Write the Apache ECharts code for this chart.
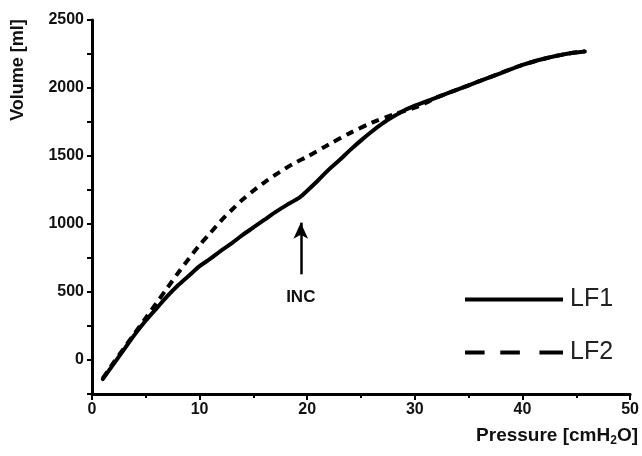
<!DOCTYPE html>
<html>
<head>
<meta charset="utf-8">
<script src="https://cdn.jsdelivr.net/npm/echarts@6/dist/echarts.min.js"></script>
<style>
  html, body { margin: 0; padding: 0; background: #fff; }
  #chart { width: 642px; height: 456px; }
</style>
</head>
<body>
<div id="chart"></div>
<script>
// Pressure [cmH2O] values and volume [ml] values
const lf1Pressure = [1.0, 2, 3, 4, 5, 6, 7, 8, 9, 10, 11, 12, 13, 14, 15, 16, 17, 18, 19.3, 20, 21, 22, 23, 24, 25, 26, 27, 28, 29, 30, 31, 32, 34, 36, 38, 40, 42, 44, 45.8];
const lf1Volume   = [-140, -30, 80, 190, 290, 380, 470, 550, 620, 690, 745, 805, 860, 920, 975, 1030, 1085, 1135, 1195, 1245, 1320, 1400, 1470, 1545, 1615, 1680, 1740, 1790, 1835, 1870, 1900, 1930, 1990, 2050, 2110, 2170, 2215, 2250, 2268];

const lf2Pressure = [1.0, 2, 3, 4, 5, 6, 7, 8, 9, 10, 11, 12, 13, 14, 15, 16, 17, 18, 19, 20, 22, 24, 26, 28, 30, 31, 32, 34, 36, 38, 40, 42, 44, 45.8];
const lf2Volume   = [-135, -20, 90, 200, 310, 420, 530, 640, 745, 845, 935, 1025, 1105, 1180, 1245, 1305, 1360, 1410, 1455, 1495, 1585, 1670, 1745, 1805, 1855, 1890, 1930, 1990, 2050, 2110, 2170, 2215, 2250, 2270];

const seriesNames = ['LF1', 'LF2'];
const xTicks = { min: 0, max: 50, interval: 10 };
const yTicks = { min: -250, max: 2500, interval: 250, labelStep: 500 };
const incArrow = { pressure: 19.4, from: 630, to: 1010, label: 'INC' };

const FONT = '"Liberation Sans", Arial, sans-serif';

function pairs(xs, ys) { return xs.map((x, i) => [x, ys[i]]); }

// legend glyphs: solid bar and three dashes
const solidIcon = 'path://M0,0h100v4h-100z';
const dashIcon = 'path://M0,0h20v4h-20zM36,0h20v4h-20zM76,0h24v4h-24z';

const chart = echarts.init(document.getElementById('chart'), null, { renderer: 'canvas' });

chart.setOption({
  animation: false,
  backgroundColor: '#fff',
  grid: { left: 92, right: 10, top: 20, bottom: 62, containLabel: false },
  xAxis: {
    type: 'value',
    min: xTicks.min, max: xTicks.max, interval: xTicks.interval,
    axisLine: { onZero: false, lineStyle: { color: '#000', width: 3 } },
    axisTick: { show: true, length: 6, lineStyle: { color: '#000', width: 2 } },
    minorTick: { show: true, splitNumber: 2, length: 4, lineStyle: { color: '#000', width: 2 } },
    axisLabel: { color: '#111', fontSize: 16, fontWeight: 'bold', fontFamily: FONT, margin: 8, showMaxLabel: true },
    splitLine: { show: false }
  },
  yAxis: {
    type: 'value',
    min: yTicks.min, max: yTicks.max, interval: yTicks.interval,
    axisLine: { show: true, onZero: false, lineStyle: { color: '#000', width: 3 } },
    axisTick: { show: true, length: 5, lineStyle: { color: '#000', width: 2 } },
    axisLabel: {
      color: '#111', fontSize: 16, fontWeight: 'bold', fontFamily: FONT, margin: 8,
      formatter: v => (v % yTicks.labelStep === 0 ? String(v) : '')
    },
    splitLine: { show: false }
  },
  legend: {
    show: true,
    orient: 'vertical',
    left: 460,
    top: 282,
    itemWidth: 98,
    itemHeight: 4,
    itemGap: 28,
    selectedMode: false,
    textStyle: { color: '#222', fontSize: 25, fontFamily: FONT, padding: [0, 0, 0, 2] },
    itemStyle: { color: '#000' },
    data: [
      { name: seriesNames[0], icon: solidIcon, itemStyle: { color: '#000' } },
      { name: seriesNames[1], icon: dashIcon, itemStyle: { color: '#000' } }
    ]
  },
  graphic: [
    {
      type: 'text',
      x: 18, y: 70,
      rotation: Math.PI / 2,
      style: {
        text: 'Volume [ml]',
        fill: '#111',
        font: 'bold 18px ' + FONT,
        align: 'center',
        verticalAlign: 'middle'
      }
    },
    {
      type: 'text',
      x: 638, y: 436,
      style: {
        text: '{a|Pressure [cmH}{s|2}{a|O]}',
        fill: '#111',
        align: 'right',
        verticalAlign: 'middle',
        rich: {
          a: { fontSize: 19, fontWeight: 'bold', fontFamily: FONT, fill: '#111' },
          s: { fontSize: 12, fontWeight: 'bold', fontFamily: FONT, fill: '#111', padding: [10, 0, 0, 0] }
        }
      }
    }
  ],
  series: [
    {
      name: seriesNames[0],
      type: 'line',
      data: pairs(lf1Pressure, lf1Volume),
      showSymbol: false,
      symbol: 'none',
      smooth: 0.3,
      lineStyle: { color: '#000', width: 4, type: 'solid', cap: 'round', join: 'round' },
      itemStyle: { color: '#000' },
      z: 3,
      markLine: {
        silent: true,
        animation: false,
        symbol: ['none', 'arrow'],
        symbolSize: [11, 16],
        lineStyle: { color: '#000', width: 2.5, type: 'solid' },
        label: {
          show: true,
          position: 'start',
          formatter: incArrow.label,
          color: '#111',
          fontSize: 17,
          fontWeight: 'bold',
          fontFamily: FONT,
          distance: 14
        },
        data: [[
          { coord: [incArrow.pressure, incArrow.from] },
          { coord: [incArrow.pressure, incArrow.to] }
        ]]
      }
    },
    {
      name: seriesNames[1],
      type: 'line',
      data: pairs(lf2Pressure, lf2Volume),
      showSymbol: false,
      symbol: 'none',
      smooth: 0.3,
      lineStyle: { color: '#000', width: 4, type: [8, 6], cap: 'butt' },
      itemStyle: { color: '#000' },
      z: 2
    }
  ]
});
</script>
</body>
</html>
